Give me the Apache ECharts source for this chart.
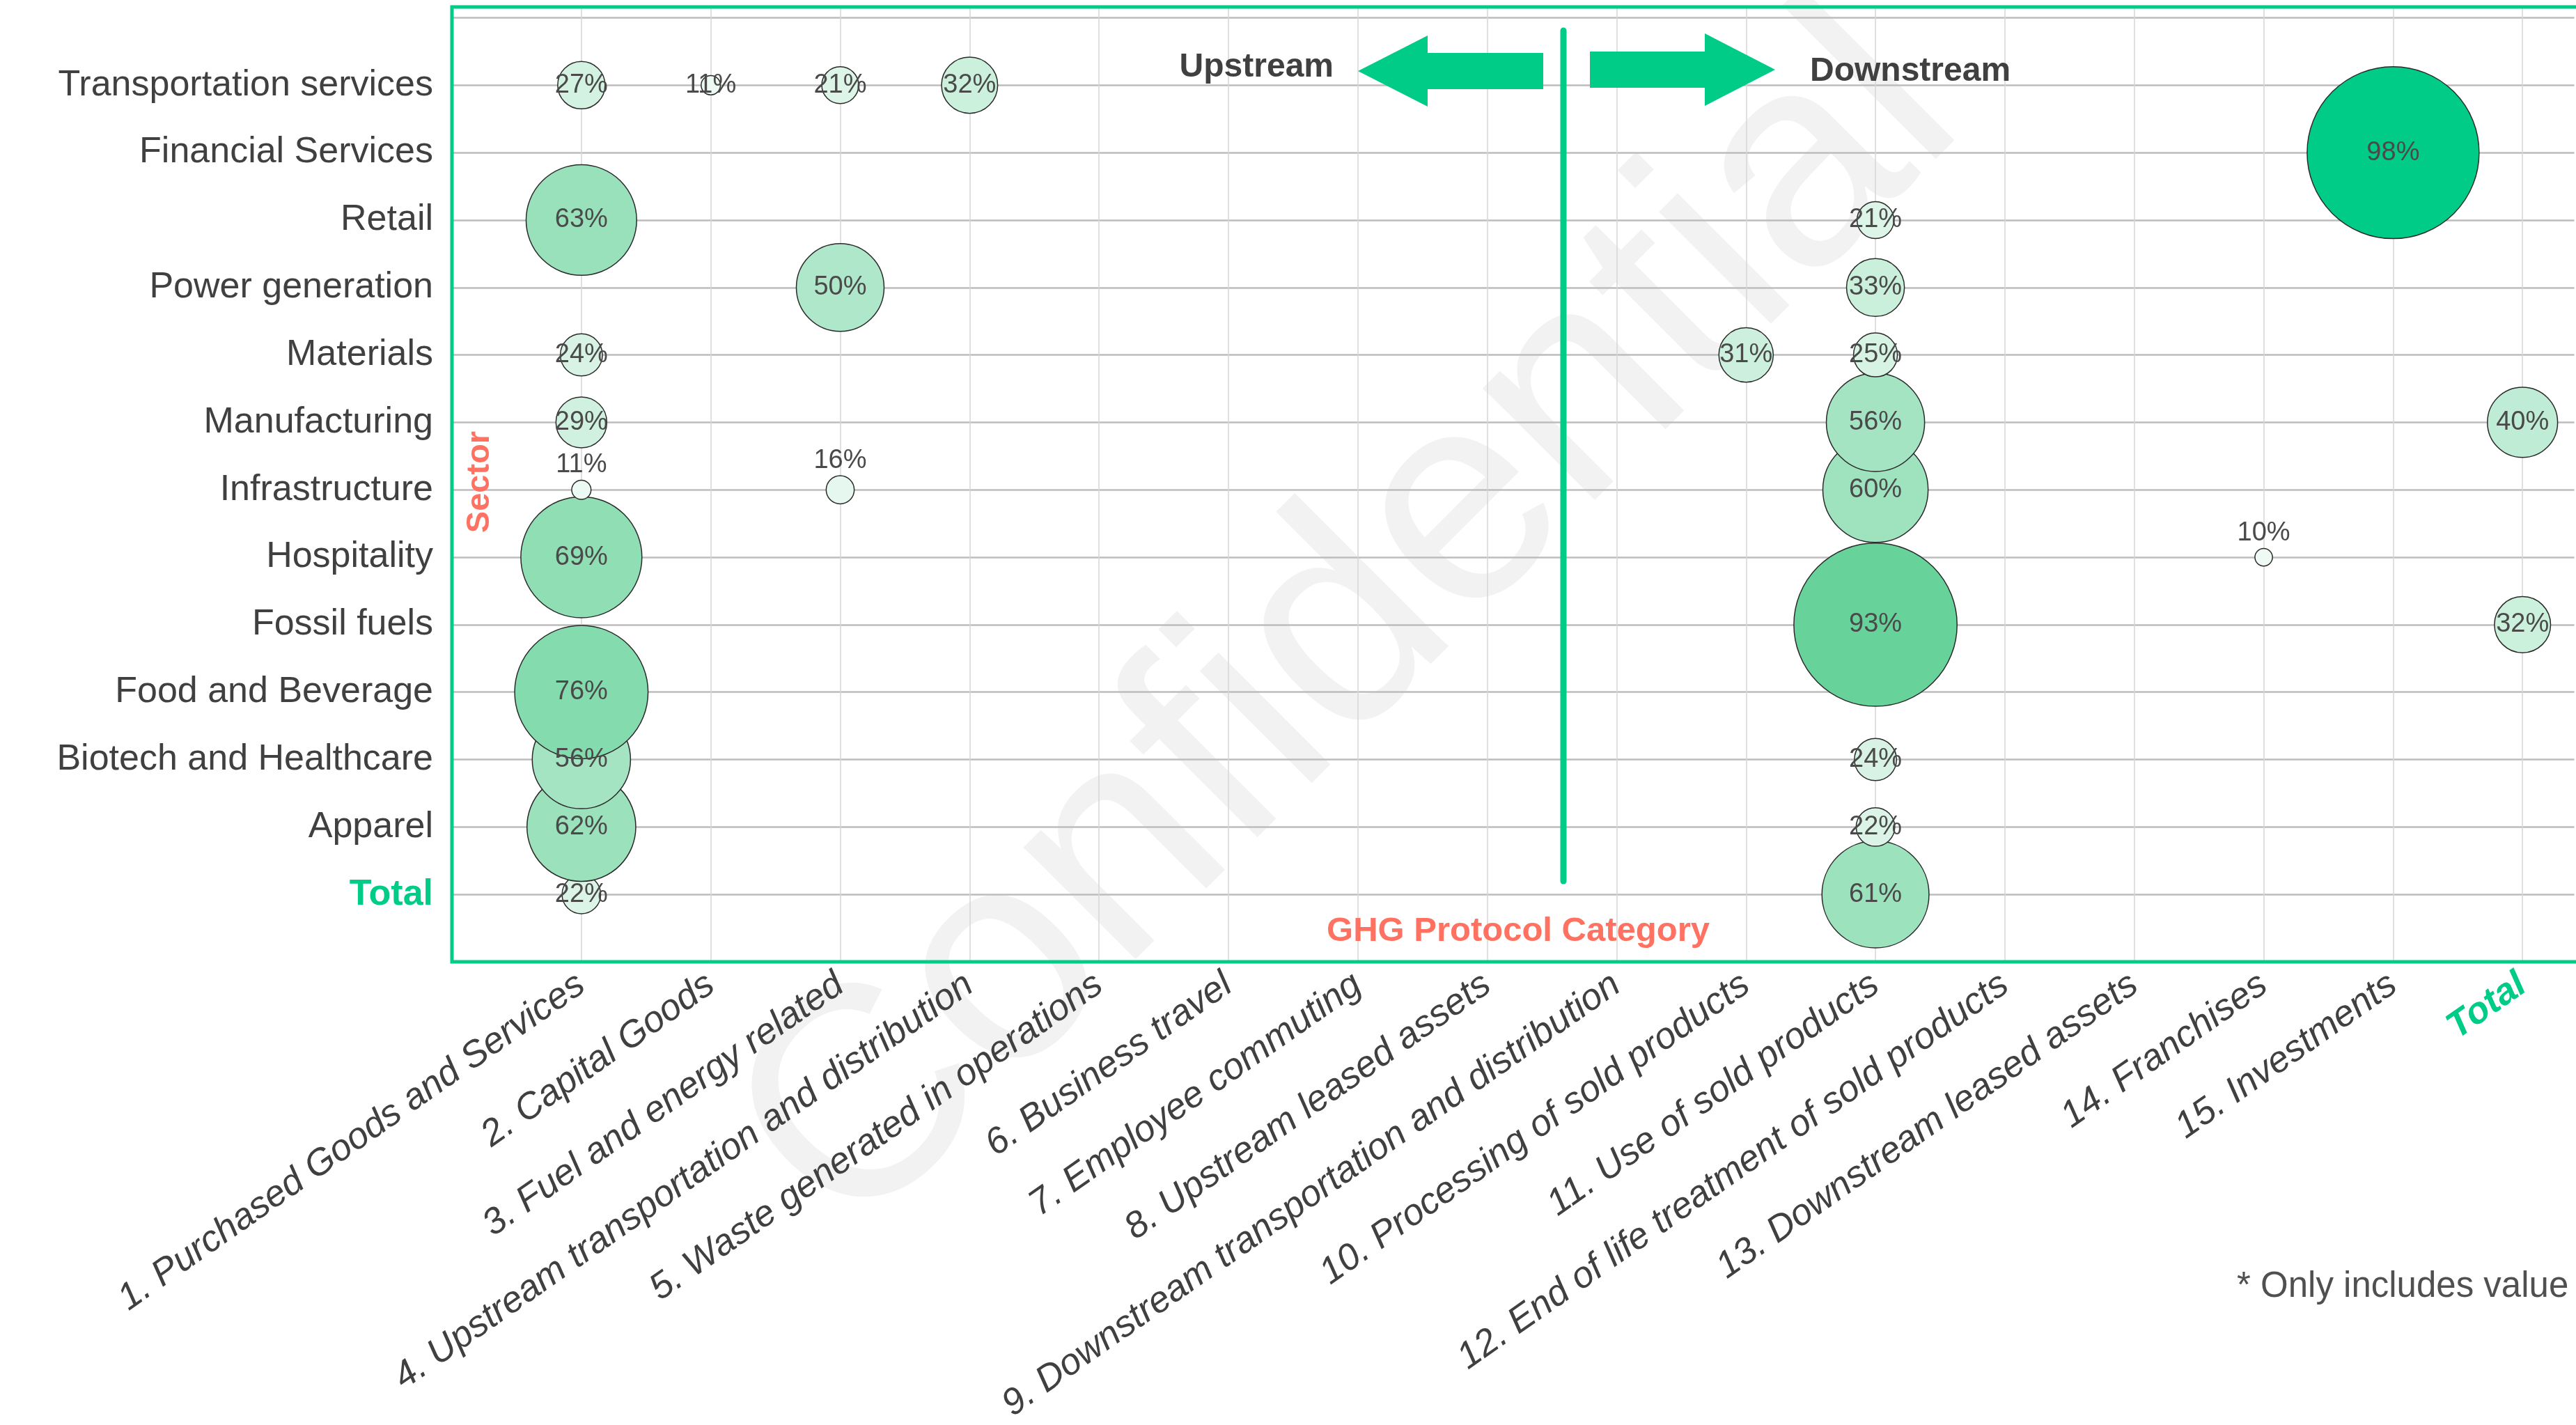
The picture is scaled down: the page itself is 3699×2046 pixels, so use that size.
<!DOCTYPE html>
<html>
<head>
<meta charset="utf-8">
<script src="https://cdn.jsdelivr.net/npm/echarts@6/dist/echarts.min.js"></script>
<style>
  html, body { margin: 0; padding: 0; background: #ffffff; }
  #chart { width: 3699px; height: 2046px; }
</style>
</head>
<body>
<div id="chart"></div>
<script>
// ---------- DATA ----------
const categories = [
  '1. Purchased Goods and Services',
  '2. Capital Goods',
  '3. Fuel and energy related',
  '4. Upstream transportation and distribution',
  '5. Waste generated in operations',
  '6. Business travel',
  '7. Employee commuting',
  '8. Upstream leased assets',
  '9. Downstream transportation and distribution',
  '10. Processing of sold products',
  '11. Use of sold products',
  '12. End of life treatment of sold products',
  '13. Downstream leased assets',
  '14. Franchises',
  '15. Investments',
  'Total'
];

// sectors from bottom to top
const sectors = [
  'Total',
  'Apparel',
  'Biotech and Healthcare',
  'Food and Beverage',
  'Fossil fuels',
  'Hospitality',
  'Infrastructure',
  'Manufacturing',
  'Materials',
  'Power generation',
  'Retail',
  'Financial Services',
  'Transportation services'
];

// [category number (1-based, 16 = Total), percent]
const rowTotal          = [[1, 22], [11, 61]];
const rowApparel        = [[1, 62], [11, 22]];
const rowBiotech        = [[1, 56], [11, 24]];
const rowFoodBeverage   = [[1, 76]];
const rowFossilFuels    = [[11, 93], [16, 32]];
const rowHospitality    = [[1, 69], [14, 10]];
const rowInfrastructure = [[1, 11], [3, 16], [11, 60]];
const rowManufacturing  = [[1, 29], [11, 56], [16, 40]];
const rowMaterials      = [[1, 24], [10, 31], [11, 25]];
const rowPower          = [[3, 50], [11, 33]];
const rowRetail         = [[1, 63], [11, 21]];
const rowFinancial      = [[15, 98]];
const rowTransportation = [[1, 27], [2, 11], [3, 21], [4, 32]];

const sectorRows = [
  rowTotal, rowApparel, rowBiotech, rowFoodBeverage, rowFossilFuels,
  rowHospitality, rowInfrastructure, rowManufacturing, rowMaterials,
  rowPower, rowRetail, rowFinancial, rowTransportation
];

// points whose labels sit above the bubble: [sector, category number]
const labelsAbove = [['Infrastructure', 1], ['Infrastructure', 3], ['Hospitality', 14]];

// ---------- BUILD ----------
const GREEN = '#00CC88';
const CORAL = '#FF7262';
const TEXT = '#404040';
const FONT = "'Liberation Sans', Arial, sans-serif";

function bubbleColor(v) {
  if (v >= 95) return GREEN;
  const t = v / 100;
  const r = Math.round(255 - t * (255 - 93));
  const g = Math.round(255 - t * (255 - 207));
  const b = Math.round(255 - t * (255 - 147));
  return 'rgb(' + r + ',' + g + ',' + b + ')';
}

const data = [];
sectorRows.forEach(function (row, i) {
  row.forEach(function (p) {
    const above = labelsAbove.some(function (a) { return a[0] === sectors[i] && a[1] === p[0]; });
    const item = { value: [p[0], i + 1, p[1]] };
    if (above) item.label = { position: 'top', distance: 2 };
    data.push(item);
  });
});

const chart = echarts.init(document.getElementById('chart'), null, { renderer: 'canvas' });

const option = {
  backgroundColor: '#ffffff',
  animation: false,
  textStyle: { fontFamily: FONT },
  grid: {
    left: 649, right: 0, top: 10, bottom: 665,
    show: false
  },
  xAxis: {
    type: 'value', min: 0, max: 16.4, interval: 1,
    axisLine: { show: false }, axisTick: { show: false },
    splitLine: { show: true, showMinLine: false, showMaxLine: false, lineStyle: { color: '#d6d6d6', width: 1.5 } },
    axisLabel: {
      rotate: 35, margin: 28, fontSize: 53, color: TEXT, fontStyle: 'italic', fontFamily: FONT,
      showMinLabel: true, showMaxLabel: true,
      formatter: function (v) {
        if (Math.abs(v - Math.round(v)) > 1e-6) return '';
        const name = categories[Math.round(v) - 1];
        if (!name) return '';
        return name === 'Total' ? '{t|Total}' : name;
      },
      rich: { t: { color: GREEN, fontWeight: 'bold', fontStyle: 'italic', fontSize: 53, fontFamily: FONT } }
    }
  },
  yAxis: {
    type: 'value', min: 0, max: 14.16, interval: 1,
    axisLine: { show: false }, axisTick: { show: false },
    splitLine: { show: true, showMinLine: false, showMaxLine: false, lineStyle: { color: '#bdbdbd', width: 2.5 } },
    axisLabel: {
      margin: 27, fontSize: 52, color: TEXT, fontFamily: FONT,
      formatter: function (v) {
        if (Math.abs(v - Math.round(v)) > 1e-6) return '';
        const name = sectors[Math.round(v) - 1];
        if (!name) return '';
        return name === 'Total' ? '{t|Total}' : name;
      },
      rich: { t: { color: GREEN, fontWeight: 'bold', fontSize: 52, fontFamily: FONT } }
    }
  },
  graphic: [
    {
      type: 'text', z: -1, x: 1940, y: 900, rotation: Math.PI / 4, silent: true,
      style: { text: 'Confidential', font: 'normal 430px ' + FONT, fill: '#f2f2f2', align: 'center', verticalAlign: 'middle' }
    },
    {
      type: 'polyline', z: 9, silent: true,
      shape: { points: [[3760, 10], [649, 10], [649, 1381], [3760, 1381]] },
      style: { stroke: GREEN, lineWidth: 5, fill: null }
    },
    {
      type: 'line', z: 10, silent: true,
      shape: { x1: 2245, y1: 44, x2: 2245, y2: 1265 },
      style: { stroke: GREEN, lineWidth: 9, lineCap: 'round' }
    },
    {
      type: 'polygon', z: 10, silent: true,
      shape: { points: [[1950, 102], [2050, 51], [2050, 76], [2216, 76], [2216, 128], [2050, 128], [2050, 153]] },
      style: { fill: GREEN }
    },
    {
      type: 'polygon', z: 10, silent: true,
      shape: { points: [[2283, 74], [2448, 74], [2448, 48], [2549, 100], [2448, 152], [2448, 126], [2283, 126]] },
      style: { fill: GREEN }
    },
    {
      type: 'text', z: 10, x: 1915, y: 97, silent: true,
      style: { text: 'Upstream', font: 'bold 48px ' + FONT, fill: TEXT, align: 'right', verticalAlign: 'middle' }
    },
    {
      type: 'text', z: 10, x: 2599, y: 103, silent: true,
      style: { text: 'Downstream', font: 'bold 48px ' + FONT, fill: TEXT, align: 'left', verticalAlign: 'middle' }
    },
    {
      type: 'text', z: 10, x: 2180, y: 1337, silent: true,
      style: { text: 'GHG Protocol Category', font: 'bold 49px ' + FONT, fill: CORAL, align: 'center', verticalAlign: 'middle' }
    },
    {
      type: 'text', z: 10, x: 689, y: 692, rotation: Math.PI / 2, silent: true,
      style: { text: 'Sector', font: 'bold 47px ' + FONT, fill: CORAL, align: 'center', verticalAlign: 'middle' }
    },
    {
      type: 'text', z: 10, x: 3212, y: 1848, silent: true,
      style: { text: '* Only includes value', font: 'normal 51px ' + FONT, fill: '#505050', align: 'left', verticalAlign: 'middle' }
    }
  ],
  series: [{
    type: 'scatter',
    data: data,
    z: 5,
    symbolSize: function (v) { return v[2] * 2.52; },
    itemStyle: {
      color: function (p) { return bubbleColor(p.value[2]); },
      borderColor: '#2a2a2a', borderWidth: 1.5, opacity: 1
    },
    label: {
      show: true, position: 'inside', fontSize: 38, color: '#4a4a4a', fontFamily: FONT,
      formatter: function (p) { return p.value[2] + '%'; }
    },
    emphasis: { disabled: true }
  }]
};

chart.setOption(option);
</script>
</body>
</html>
